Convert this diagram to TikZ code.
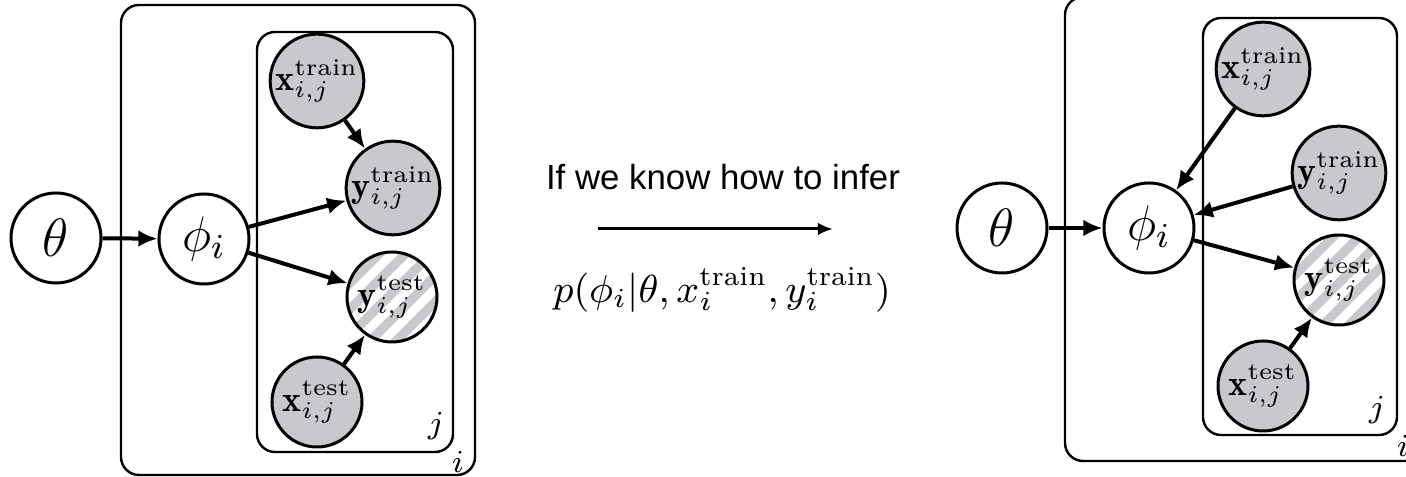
\RequirePackage{fix-cm}
\documentclass[tikz,border=0pt]{standalone}
\usepackage{fontspec}
\newfontfamily\sanslib{Liberation Sans}
\usetikzlibrary{arrows.meta,patterns.meta}
\definecolor{obsgray}{RGB}{200,201,205}
\tikzset{
  var/.style={circle,draw,line width=0.75pt,minimum size=22.5pt,inner sep=0pt,fill=white,font=\fontsize{9}{10}\selectfont},
  thetavar/.style={var,font=\fontsize{13.5}{15}\selectfont},
  phivar/.style={var,font=\fontsize{12.5}{14}\selectfont},
  obs/.style={var,fill=obsgray},
  hatched/.style={circle,draw,line width=0.75pt,minimum size=22.5pt,inner sep=0pt,font=\fontsize{9}{10}\selectfont,
    preaction={fill=white},
    preaction={pattern={Lines[angle=45,distance=4.6pt,line width=2.3pt]},pattern color=obsgray}},
  plate/.style={draw,line width=0.6pt,rounded corners=4.5pt},
  platelbl/.style={inner sep=0pt,font=\fontsize{8}{9}\selectfont},
  edge/.style={line width=1pt,-{Latex[length=4.8pt,width=4.2pt]}},
  infer/.style={line width=0.75pt,-{Latex[length=3.8pt,width=3.2pt]}},
}
\begin{document}
\begin{tikzpicture}[x=0.25pt,y=-0.25pt]
\useasboundingbox (0,0) rectangle (1406,477);
\clip (0,0) rectangle (1406,477);
% ---------- left model ----------
\draw[plate] (121,5) rectangle (475,475);
\draw[plate] (257,32) rectangle (453,452);
\node[platelbl] (jL) at (436,426) {$j$};
\node[platelbl] (iL) at (458,462) {$i$};
\node[thetavar] (thL) at (56,238) {$\theta$};
\node[phivar] (phL) at (204,239) {$\phi_i$};
\node[obs] (xtrL) at (317,81) {$\mathbf{x}^{\mathrm{train}}_{i,j}$};
\node[obs] (ytrL) at (393,188) {$\mathbf{y}^{\mathrm{train}}_{i,j}$};
\node[hatched] (yteL) at (392,297) {$\mathbf{y}^{\mathrm{test}}_{i,j}$};
\node[obs] (xteL) at (317,402) {$\mathbf{x}^{\mathrm{test}}_{i,j}$};
\draw[edge] (thL) -- (phL);
\draw[edge] (phL) -- (ytrL);
\draw[edge] (phL) -- (yteL);
\draw[edge] (xtrL) -- (ytrL);
\draw[edge] (xteL) -- (yteL);
% ---------- middle ----------
\node[font=\sanslib\fontsize{8.7}{10}\selectfont] (txt) at (723,177) {If we know how to infer};
\coordinate (as) at (598,229);
\coordinate (ae) at (833,229);
\draw[infer] (as) -- (ae);
\node[font=\fontsize{9.8}{11}\selectfont] (post) at (722,290) {$p(\phi_i|\theta,x_i^{\mathrm{train}},y_i^{\mathrm{train}})$};
% ---------- right model ----------
\draw[plate] (1065,-3) rectangle (1425,461);
\draw[plate] (1203,18) rectangle (1397,435);
\node[platelbl] (jR) at (1377,410) {$j$};
\node[platelbl] (iR) at (1403,446) {$i$};
\node[thetavar] (thR) at (1002,228) {$\theta$};
\node[phivar] (phR) at (1149,228) {$\phi_i$};
\node[obs] (xtrR) at (1263,69) {$\mathbf{x}^{\mathrm{train}}_{i,j}$};
\node[obs] (ytrR) at (1339,173) {$\mathbf{y}^{\mathrm{train}}_{i,j}$};
\node[hatched] (yteR) at (1339,280) {$\mathbf{y}^{\mathrm{test}}_{i,j}$};
\node[obs] (xteR) at (1263,386) {$\mathbf{x}^{\mathrm{test}}_{i,j}$};
\draw[edge] (thR) -- (phR);
\draw[edge] (xtrR) -- (phR);
\draw[edge] (ytrR) -- (phR);
\draw[edge] (phR) -- (yteR);
\draw[edge] (xteR) -- (yteR);
\end{tikzpicture}
\end{document}
